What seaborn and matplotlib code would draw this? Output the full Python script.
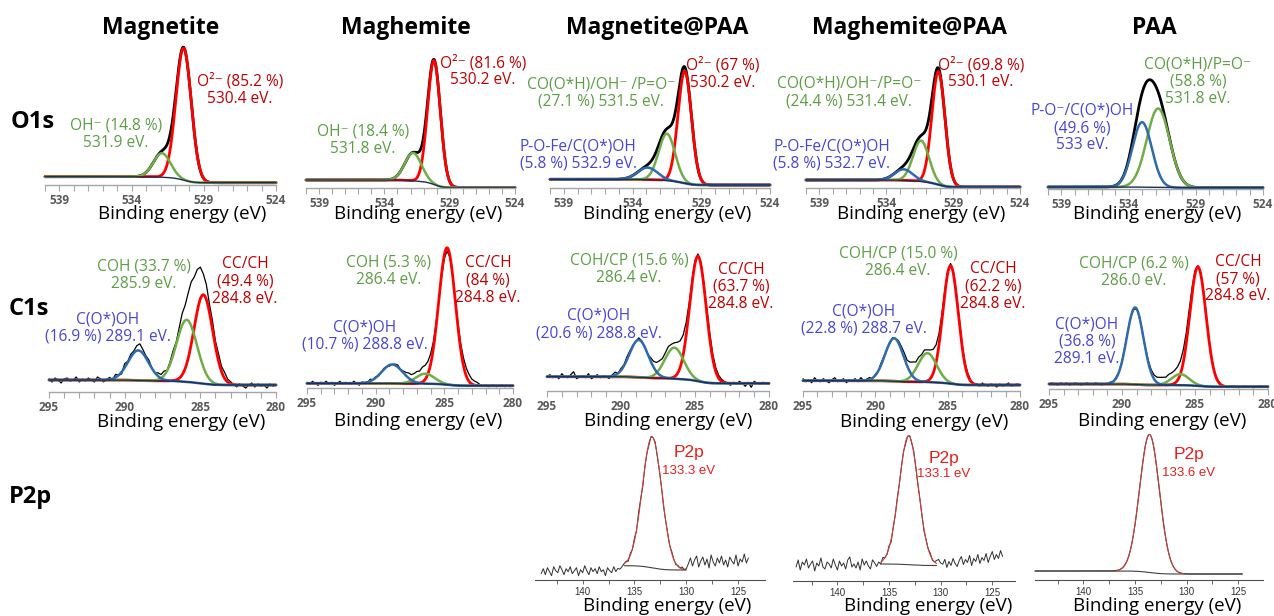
import numpy as np
import matplotlib
matplotlib.use("Agg")
import matplotlib.pyplot as plt
import seaborn as sns

# -----------------------------
# Data
# -----------------------------
samples = ["Magnetite", "Maghemite", "Magnetite@PAA", "Maghemite@PAA", "PAA"]
levels = ["O1s", "C1s", "P2p"]

# O1s fitted components: centre (eV), height (a.u.), FWHM (eV), species
o1s_center = [[530.4, 531.9], [530.2, 531.8], [530.2, 531.5, 532.9],
              [530.1, 531.4, 532.7], [531.8, 533.0]]
o1s_height = [[132, 24], [124, 28], [112, 47, 12], [113, 41, 11], [79, 65]]
o1s_fwhm = [[1.25, 1.4], [1.15, 1.5], [1.15, 1.4, 1.7], [1.15, 1.4, 1.6], [2.0, 1.7]]
o1s_species = [["ox", "oh"], ["ox", "oh"], ["ox", "oh", "po"], ["ox", "oh", "po"], ["oh", "po"]]
o1s_bg_high = [8.3, 8.3, 9.0, 8.3, 2.0]
o1s_bg_low = [2.3, 0.8, 3.3, 1.3, 1.3]
o1s_labels = [
    ["O²⁻ (85.2 %)\n530.4 eV.", "OH⁻ (14.8 %)\n531.9 eV."],
    ["O²⁻ (81.6 %)\n530.2 eV.", "OH⁻ (18.4 %)\n531.8 eV."],
    ["O²⁻ (67 %)\n530.2 eV.", "CO(O*H)/OH⁻ /P=O⁻\n(27.1 %) 531.5 eV.",
     "P-O-Fe/C(O*)OH\n(5.8 %) 532.9 eV."],
    ["O²⁻ (69.8 %)\n530.1 eV.", "CO(O*H)/OH⁻/P=O⁻\n(24.4 %) 531.4 eV.",
     "P-O-Fe/C(O*)OH\n(5.8 %) 532.7 eV."],
    ["CO(O*H)/P=O⁻\n(58.8 %)\n531.8 eV.", "P-O⁻/C(O*)OH\n(49.6 %)\n533 eV."],
]

# C1s fitted components: CC/CH, COH(/CP), C(O*)OH
c1s_center = [[284.8, 285.9, 289.1], [284.8, 286.4, 288.8], [284.8, 286.4, 288.8],
              [284.8, 286.4, 288.7], [284.8, 286.0, 289.1]]
c1s_height = [[89, 62, 30], [137, 10, 19], [125, 31, 37.5], [118, 29, 43], [119, 11, 77]]
c1s_fwhm = [[1.45, 1.6, 1.6], [1.43, 1.6, 1.8], [1.3, 1.5, 1.5], [1.25, 1.5, 1.5],
            [1.3, 1.4, 1.35]]
c1s_species = ["ox", "oh", "po"]
c1s_bg_high = [11.7, 5.0, 14.0, 10.0, 5.3]
c1s_bg_low = [6.7, 2.6, 7.4, 5.7, 2.6]
c1s_labels = [
    ["CC/CH\n(49.4 %)\n284.8 eV.", "COH (33.7 %)\n285.9 eV.", "C(O*)OH\n(16.9 %) 289.1 eV."],
    ["CC/CH\n(84 %)\n284.8 eV.", "COH (5.3 %)\n286.4 eV.", "C(O*)OH\n(10.7 %) 288.8 eV."],
    ["CC/CH\n(63.7 %)\n284.8 eV.", "COH/CP (15.6 %)\n286.4 eV.", "C(O*)OH\n(20.6 %) 288.8 eV."],
    ["CC/CH\n(62.2 %)\n284.8 eV.", "COH/CP (15.0 %)\n286.4 eV.", "C(O*)OH\n(22.8 %) 288.7 eV."],
    ["CC/CH\n(57 %)\n284.8 eV.", "COH/CP (6.2 %)\n286.0 eV.", "C(O*)OH\n(36.8 %)\n289.1 eV."],
]
# measured minus fit, C1s, every 0.2 eV from 295 to 280 eV
c1s_resid = [
    [1, -2, 2, 0, -3, 1, 2, -1, 0, 3, -2, 1, -1, 2, 0, -2, 3, 1, -2, 0,
     2, -1, 3, 0, -2, 4, 1, 3, 2, 5, 7, 4, 2, 3, 0, -1, 2, 1, 3, 0,
     2, 4, 1, 3, 5, 2, 4, 6, 3, 5, 6, 4, 5, 3, 6, 4, 7, 5, 6, 3,
     2, 0, -2, 1, -1, -3, 0, 2, -2, 1, -1, 0, -3, 1, -1, 0],
    [1, -1, 2, 0, -2, 1, 0, 2, -1, 1, -2, 0, 2, -1, 1, 0, -1, 2, 0, -2,
     1, 0, -1, 2, 0, 1, -1, 0, 1, 0, -1, 0, 1, 2, 0, 1, 2, 3, 2, 3,
     4, 3, 5, 4, 3, 2, 0, -2, -4, -5, -5, -4, -2, 0, 2, 4, 6, 8, 8, 7,
     5, 4, 3, 1, 0, 1, -1, 0, 1, -1, 0, 1, -1, 0, -1, 0],
    [0, 2, -1, 1, -2, 3, 0, -1, 2, 5, -2, 0, 1, -1, 3, -2, 0, 2, -1, 1,
     0, -2, 1, 3, 0, 2, 1, 3, 2, 1, 0, 2, 1, 0, -1, 2, 3, 4, 5, 4,
     5, 6, 4, 3, 2, 1, 0, -1, -2, -1, 0, 1, 2, 3, 5, 6, 5, 4, 3, 2,
     1, 0, -2, 1, -1, 2, 0, -3, 1, -4, 2, 0, -1, 1, 0, -1],
    [2, -1, 1, -2, 3, 0, -1, 2, 0, -2, 1, 3, -1, 0, 2, -2, 1, 0, 2, -1,
     3, 0, 1, 2, -1, 1, 0, 2, 1, 0, -1, 1, 0, 2, 3, 4, 3, 5, 6, 4,
     5, 3, 4, 2, 1, 0, -1, -2, -2, -1, 0, 1, 2, 3, 4, 3, 2, 2, 1, 0,
     1, -1, 2, 0, -1, 1, 0, -2, 1, -1, 0, 2, -1, 0, 1, 0],
    [0, 1, 0, -1, 1, 0, 1, -1, 0, 1, 0, -1, 0, 1, 0, 0, 1, 0, -1, 0,
     0, 1, 0, 1, 0, 0, 1, 1, 0, -1, 0, 1, 0, 1, 2, 3, 4, 5, 6, 6,
     5, 6, 5, 4, 3, 2, 2, 2, 3, 2, 1, 0, 1, 2, 2, 1, 0, 0, 1, 0,
     0, -1, 0, 1, 0, -1, 0, 1, 0, 0, -1, 0, 1, 0, 0, -1],
]

# P2p (only the PAA-containing samples)
p2p_samples = [2, 3, 4]
p2p_center = [133.3, 133.1, 133.6]
p2p_height = [131, 129, 138]
p2p_fwhm = [2.2, 2.2, 2.25]
p2p_bg_high = [14.3, 17.0, 9.0]
p2p_bg_low = [10.0, 15.5, 6.0]
p2p_fit_range = [(136.0, 130.0), (135.8, 130.4), (136.8, 130.3)]
p2p_data_range = [(144.0, 124.0), (144.0, 124.0), (144.7, 124.6)]
p2p_labels = ["133.3 eV", "133.1 eV", "133.6 eV"]
# measured minus fit, P2p, every 0.2 eV from 144 to 124 eV
p2p_resid = [
    [-8, -3, -9, -2, -6, -10, -1, -5, -7, 0, -4, -9, -3, -6, -1, -8, -5, -2, -10, -4,
     -7, 0, -5, -9, -2, -6, -3, -8, -1, -6, -4, -10, -2, -5, -7, -1, -6, -3, -4, -2,
     0, 1, -2, 2, 0, 3, -1, 4, 2, -3, 1, 0, -2, 1, 0, 2, -1, 0, 1, -2,
     0, 1, -1, 2, 0, -1, 1, 0, 2, 0, 1,
     6, 12, 4, 10, 14, 3, 9, 13, 5, 11, 2, 15, 8, 4, 12, 7, 14, 5, 10, 3,
     13, 9, 6, 15, 4, 11, 8, 16, 7, 12],
    [-3, 4, -6, 2, -1, 5, -4, 0, 3, -7, 1, -2, 6, -3, -5, 2, 0, -4, 5, -1,
     -6, 3, -2, 1, -5, 4, 7, -3, 0, -4, 2, -6, 5, -1, 3, -2, -5, 4, 1, -3,
     1, -2, 3, 0, -1, 2, -3, 1, 0, 2, -1, 0, 1, -2, 0, 1, -1, 2, 0, -1,
     1, 0, -2, 1, 0, 2, -1, 0, 3, 5, 2,
     1, 6, -2, 4, 0, 7, 2, -1, 5, 9, 1, 6, 3, 10, 0, 7, 4, 11, 2, 8,
     5, 12, 3, 9, 14, 6, 11, 7, 15, 9],
    None,
]

# -----------------------------
# Layout (pixels of the 1274x616 figure)
# -----------------------------
W, H = 1274, 616
o1s_box = [(45, 276, 185), (306, 515, 188.3), (550, 770, 188.3), (806, 1020, 188.3), (1048, 1263, 189)]
c1s_box = [(49, 276, 391.7), (307, 513, 388.3), (547, 769, 390.7), (803, 1020, 390.7), (1049, 1268, 389.3)]
p2p_box = [(535, 765, 580), (793, 1015, 581), (1035, 1263, 580)]
p2p_xlim = [(144.6, 122.4), (144.3, 122.8), (144.7, 122.6)]

o1s_label_pos = [[(240, 90), (116, 134.5)], [(483, 71.5), (363, 140.5)],
                 [(723, 74), (601, 93), (578, 155)], [(981, 73.5), (849, 92.5), (832, 155)],
                 [(1198, 81.5), (1082, 128)]]
c1s_label_pos = [[(245, 281.5), (144, 275), (108, 328)], [(488, 280.5), (389, 271.5), (365, 336)],
                 [(741, 287), (629, 269), (599, 324.5)], [(993, 286.5), (898, 262), (864, 320)],
                 [(1238, 279), (1134, 272.5), (1087, 341.7)]]
p2p_label_pos = [(689, 453, 471.5), (944, 458, 474), (1189, 454.5, 472.5)]
title_x = [161, 406, 657, 909, 1154]
xlabel_pos = [[(182, 214), (418, 214), (667, 214), (921, 214), (1157, 214)],
              [(181, 422), (418, 421), (668, 421), (924, 422), (1162, 421)],
              [(667, 606), (928, 606), (1157, 606)]]
row_label_pos = [(33, 122), (29, 309), (30, 497)]

line_color = {"ox": "#FF0000", "oh": "#70AD47", "po": "#2F6BAA"}
text_color = {"ox": "#C00000", "oh": "#5C9E44", "po": "#4646D2"}
bg_color = "#1F2D55"

# -----------------------------
# Plot
# -----------------------------
sns.set_theme(style="white")
plt.rcParams["font.family"] = ["Open Sans", "DejaVu Sans"]

fig = plt.figure(figsize=(W / 100, H / 100), dpi=100)


def px_text(x, y, s, **kw):
    fig.text(x / W, 1 - y / H, s, ha="center", va="center", **kw)


def px_axes(x0, x1, y_axis, y_top):
    ax = fig.add_axes([x0 / W, 1 - y_axis / H, (x1 - x0) / W, (y_axis - y_top) / H])
    ax.set_ylim(0, y_axis - y_top)
    ax.set_facecolor("none")
    ax.set_yticks([])
    sns.despine(ax=ax, left=True)
    return ax


def gauss(e, c, h, w):
    s = w / 2.3548
    return h * np.exp(-0.5 * ((e - c) / s) ** 2)


def shirley(e, total, high, low):
    # background step that follows the accumulated peak area from the low-BE side
    order = np.argsort(e)
    cum = np.cumsum(total[order])
    frac = np.empty_like(cum)
    frac[order] = cum / cum[-1]
    return low + (high - low) * frac


def line(ax, x, y, color, lw):
    sns.lineplot(x=x, y=y, ax=ax, color=color, lw=lw, sort=False, clip_on=False)


def core_axis(ax, xlim, major):
    ax.set_xlim(*xlim)
    ax.set_xticks(major)
    ax.set_xticklabels([str(m) for m in major])
    ax.set_xticks(np.arange(min(xlim), max(xlim) + 0.1, 1.0), minor=True)
    ax.spines["bottom"].set_color("#A6A6A6")
    ax.spines["bottom"].set_linewidth(1.0)
    ax.tick_params(axis="x", which="both", direction="out", length=4, width=0.8,
                   color="#A6A6A6", pad=2.5, bottom=True)
    ax.tick_params(axis="x", which="major", labelsize=8.5, labelcolor="#595959")
    for t in ax.get_xticklabels():
        t.set_fontweight("bold")


# O1s and C1s rows
rows = [
    (o1s_box, 40, (540, 524), [539, 534, 529, 524], o1s_center, o1s_height, o1s_fwhm,
     o1s_bg_high, o1s_bg_low, o1s_labels, o1s_label_pos, None),
    (c1s_box, 240, (295, 280), [295, 290, 285, 280], c1s_center, c1s_height, c1s_fwhm,
     c1s_bg_high, c1s_bg_low, c1s_labels, c1s_label_pos, c1s_resid),
]
for r, (boxes, top, xlim, major, cen, hgt, fw, bhi, blo, labs, lpos, resid) in enumerate(rows):
    e = np.linspace(xlim[0], xlim[1], 1200)
    for i, (x0, x1, ya) in enumerate(boxes):
        ax = px_axes(x0, x1, ya, top)
        core_axis(ax, xlim, major)
        species = o1s_species[i] if r == 0 else c1s_species
        comps = [gauss(e, c, h, w) for c, h, w in zip(cen[i], hgt[i], fw[i])]
        total = np.sum(comps, axis=0)
        bg = shirley(e, total, bhi[i], blo[i])

        # measured spectrum
        if resid is None:
            line(ax, e, bg + total, "black", 2.0)
        else:
            ed = np.linspace(xlim[0], xlim[1], len(resid[i]))
            meas = np.interp(ed, e[::-1], (bg + total)[::-1]) + np.array(resid[i])
            line(ax, ed, meas, "black", 0.9)

        # fitted components on the background
        for comp, sp in zip(comps, species):
            line(ax, e, bg + comp, line_color[sp], 2.0 if sp == "ox" else 1.8)
        line(ax, e, bg, bg_color, 1.0)

        for txt, sp, (lx, ly) in zip(labs[i], species, lpos[i]):
            px_text(lx, ly, txt, color=text_color[sp], fontsize=11.2, linespacing=1.1)
        px_text(*xlabel_pos[r][i], "Binding energy (eV)", fontsize=13.5, color="black")

# P2p row
for k, (x0, x1, ya) in enumerate(p2p_box):
    ax = px_axes(x0, x1, ya, 425)
    xlim = p2p_xlim[k]
    ax.set_xlim(*xlim)
    ax.set_xticks([140, 135, 130, 125])
    ax.set_xticks([142.5, 137.5, 132.5, 127.5], minor=True)
    ax.spines["bottom"].set_color("#505050")
    ax.spines["bottom"].set_linewidth(0.8)
    ax.tick_params(axis="x", which="both", direction="out", length=3, width=0.6,
                   color="#505050", pad=2, bottom=True, labelsize=7, labelcolor="#333333")
    for t in ax.get_xticklabels():
        t.set_fontfamily("Liberation Sans")

    e = np.linspace(xlim[0], xlim[1], 1200)
    peak = gauss(e, p2p_center[k], p2p_height[k], p2p_fwhm[k])
    bg = shirley(e, peak, p2p_bg_high[k], p2p_bg_low[k])
    fit = bg + peak

    lo, hi = p2p_data_range[k][1], p2p_data_range[k][0]
    if p2p_resid[k] is None:
        m = (e <= hi) & (e >= lo)
        line(ax, e[m], fit[m], "#404040", 0.8)
        line(ax, e[m], bg[m], "#404040", 0.8)
    else:
        ed = np.linspace(hi, lo, len(p2p_resid[k]))
        meas = np.interp(ed, e[::-1], fit[::-1]) + np.array(p2p_resid[k])
        line(ax, ed, meas, "#303030", 0.7)
    f_hi, f_lo = p2p_fit_range[k]
    m = (e <= f_hi) & (e >= f_lo)
    line(ax, e[m], fit[m], "#C8403C", 0.8)
    if p2p_resid[k] is not None:
        line(ax, e[m], bg[m], "#404040", 0.8)

    lx, ly1, ly2 = p2p_label_pos[k]
    px_text(lx, ly1, "P2p", color="#E3201C", fontsize=12.5, family="Liberation Sans")
    px_text(lx, ly2, p2p_labels[k], color="#E3201C", fontsize=9.5, family="Liberation Sans")
    px_text(*xlabel_pos[2][k], "Binding energy (eV)", fontsize=13.5, color="black")

# Column titles and row labels
for name, tx in zip(samples, title_x):
    px_text(tx, 28, name, fontsize=16.5, fontweight="bold", color="black")
for lev, (rx, ry) in zip(levels, row_label_pos):
    px_text(rx, ry, lev, fontsize=17, fontweight="bold", color="black")

plt.savefig("out.png", dpi=100)
